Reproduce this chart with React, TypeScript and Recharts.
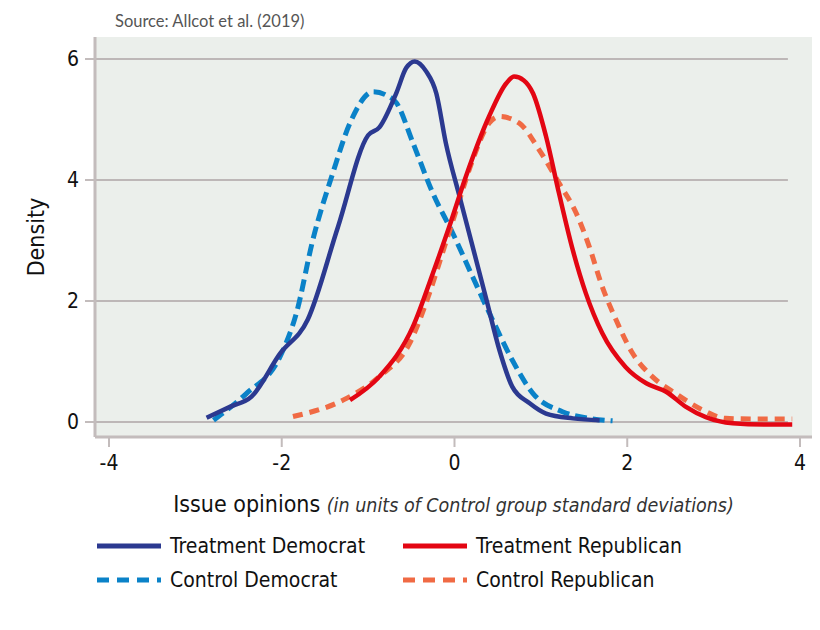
import React from 'react';
import { LineChart, Line, XAxis, YAxis, CartesianGrid, ReferenceLine, Label } from 'recharts';

// x positions (issue opinion, SD units) and densities
const tdX = [-2.87, -2.6, -2.35, -2.02, -1.7, -1.35, -1.0, -0.87, -0.67, -0.56, -0.46, -0.33, -0.21, -0.1, 0.06, 0.21, 0.37, 0.52, 0.67, 0.87, 1.06, 1.37, 1.68];
const tdY = [0.07, 0.25, 0.42, 1.13, 1.69, 3.22, 4.74, 4.87, 5.45, 5.85, 5.96, 5.8, 5.43, 4.61, 3.72, 2.9, 2.02, 1.19, 0.58, 0.31, 0.14, 0.06, 0.03];

const cdX = [-2.79, -2.41, -2.02, -1.83, -1.64, -1.41, -1.21, -0.94, -0.8, -0.67, -0.48, -0.25, -0.02, 0.21, 0.44, 0.67, 0.91, 1.25, 1.55, 1.83];
const cdY = [0.03, 0.47, 1.08, 1.8, 3.01, 4.11, 4.94, 5.46, 5.41, 5.27, 4.61, 3.78, 3.12, 2.4, 1.69, 1.02, 0.47, 0.17, 0.06, 0.02];

const trX = [-1.21, -0.87, -0.48, -0.25, -0.06, 0.13, 0.4, 0.6, 0.69, 0.8, 0.91, 1.06, 1.21, 1.37, 1.52, 1.71, 1.98, 2.22, 2.45, 2.68, 2.91, 3.22, 3.6, 3.91];
const trY = [0.36, 0.75, 1.58, 2.46, 3.23, 4.05, 5.05, 5.6, 5.71, 5.65, 5.43, 4.72, 3.78, 2.84, 2.13, 1.47, 0.91, 0.64, 0.5, 0.25, 0.08, -0.02, -0.04, -0.04];

const crX = [-1.87, -1.25, -0.87, -0.52, -0.29, -0.14, 0.02, 0.21, 0.4, 0.52, 0.75, 0.98, 1.21, 1.41, 1.56, 1.71, 1.87, 2.06, 2.29, 2.56, 2.87, 3.14, 3.5, 3.91];
const crY = [0.09, 0.39, 0.75, 1.3, 2.13, 2.79, 3.5, 4.33, 4.94, 5.05, 4.94, 4.5, 3.95, 3.45, 2.9, 2.24, 1.69, 1.14, 0.75, 0.47, 0.2, 0.06, 0.05, 0.05];

const xTicks = [-4, -2, 0, 2, 4];
const yTicks = [0, 2, 4, 6];

const seriesNames = ['Treatment Democrat', 'Control Democrat', 'Treatment Republican', 'Control Republican'];

const zip = (xs: number[], ys: number[]) => xs.map((x, i) => ({ x, y: ys[i] }));

const X_MIN = -4.162;
const X_MAX = 4.139;
const Y_MIN = -0.248;
const Y_MAX = 6.364;

const FONT = '"Liberation Sans Narrow", "DejaVu Sans Condensed", Roboto, sans-serif';
const AXIS = '#c3bcbc';

const colors = {
  td: '#2b3990',
  cd: '#0a82c8',
  tr: '#e30613',
  cr: '#f06a44',
};

const LegendItem = ({ color, dashed, label, left, top }: any) => (
  <div style={{ position: 'absolute', left, top, display: 'flex', alignItems: 'center' }}>
    <svg width={68} height={8} style={{ marginRight: 7 }}>
      <line x1={2} y1={4} x2={66} y2={4} stroke={color} strokeWidth={5} strokeDasharray={dashed ? '12 8' : undefined} />
    </svg>
    <span style={{ fontSize: 21, color: '#111', lineHeight: '24px' }}>{label}</span>
  </div>
);

const XLabel = (props: any) => {
  const { viewBox } = props;
  const cx = viewBox.x + viewBox.width / 2;
  return (
    <text x={cx} y={viewBox.y + 75} textAnchor="middle" fill="#111" style={{ fontFamily: FONT }}>
      <tspan fontSize={23}>Issue opinions </tspan>
      <tspan fontSize={19.5} fontStyle="italic" fill="#333">(in units of Control group standard deviations)</tspan>
    </text>
  );
};

const App: React.FC = () => {
  return (
    <div style={{ position: 'relative', width: 804, height: 614, fontFamily: FONT }}>
      <div style={{ position: 'absolute', left: 107, top: 3, fontSize: 16.5, color: '#555', fontFamily: 'Lato, sans-serif' }}>
        Source: Allcot et al. (2019)
      </div>
      <LineChart width={804} height={520} margin={{ top: 29, right: 0, left: 0, bottom: 0 }}>
        <CartesianGrid fill="#ebefeb" stroke="none" horizontal={false} vertical={false} />
        {yTicks.map((t) => (
          <ReferenceLine
            key={t}
            segment={[{ x: X_MIN, y: t }, { x: 3.86, y: t }]}
            stroke="#bdb7b7"
            strokeWidth={2}
          />
        ))}
        <XAxis
          type="number"
          dataKey="x"
          domain={[X_MIN, X_MAX]}
          ticks={xTicks}
          height={91}
          axisLine={{ stroke: AXIS, strokeWidth: 3 }}
          tickLine={{ stroke: AXIS, strokeWidth: 2 }}
          tickSize={10}
          tickMargin={8}
          tick={{ fill: '#111', fontSize: 21, fontFamily: FONT }}
          allowDataOverflow
        >
          <Label content={<XLabel />} />
        </XAxis>
        <YAxis
          type="number"
          dataKey="y"
          domain={[Y_MIN, Y_MAX]}
          ticks={yTicks}
          width={87}
          axisLine={{ stroke: AXIS, strokeWidth: 3 }}
          tickLine={{ stroke: AXIS, strokeWidth: 2 }}
          tickSize={10}
          tickMargin={6}
          tick={{ fill: '#111', fontSize: 21, fontFamily: FONT }}
          allowDataOverflow
        >
          <Label
            value="Density"
            angle={-90}
            position="insideLeft"
            offset={28}
            style={{ fill: '#111', fontSize: 23, fontFamily: FONT, textAnchor: 'middle' }}
          />
        </YAxis>
        <Line data={zip(cdX, cdY)} dataKey="y" name={seriesNames[1]} type="monotone" stroke={colors.cd} strokeWidth={5} strokeDasharray="12 6" dot={false} activeDot={false} isAnimationActive={false} />
        <Line data={zip(crX, crY)} dataKey="y" name={seriesNames[3]} type="monotone" stroke={colors.cr} strokeWidth={5} strokeDasharray="10 7" dot={false} activeDot={false} isAnimationActive={false} />
        <Line data={zip(tdX, tdY)} dataKey="y" name={seriesNames[0]} type="monotone" stroke={colors.td} strokeWidth={4.5} dot={false} activeDot={false} isAnimationActive={false} />
        <Line data={zip(trX, trY)} dataKey="y" name={seriesNames[2]} type="monotone" stroke={colors.tr} strokeWidth={4.5} dot={false} activeDot={false} isAnimationActive={false} />
      </LineChart>
      <LegendItem color={colors.td} label={seriesNames[0]} left={87} top={526} />
      <LegendItem color={colors.tr} label={seriesNames[2]} left={393} top={526} />
      <LegendItem color={colors.cd} dashed label={seriesNames[1]} left={87} top={560} />
      <LegendItem color={colors.cr} dashed label={seriesNames[3]} left={393} top={560} />
    </div>
  );
};

export default App;
